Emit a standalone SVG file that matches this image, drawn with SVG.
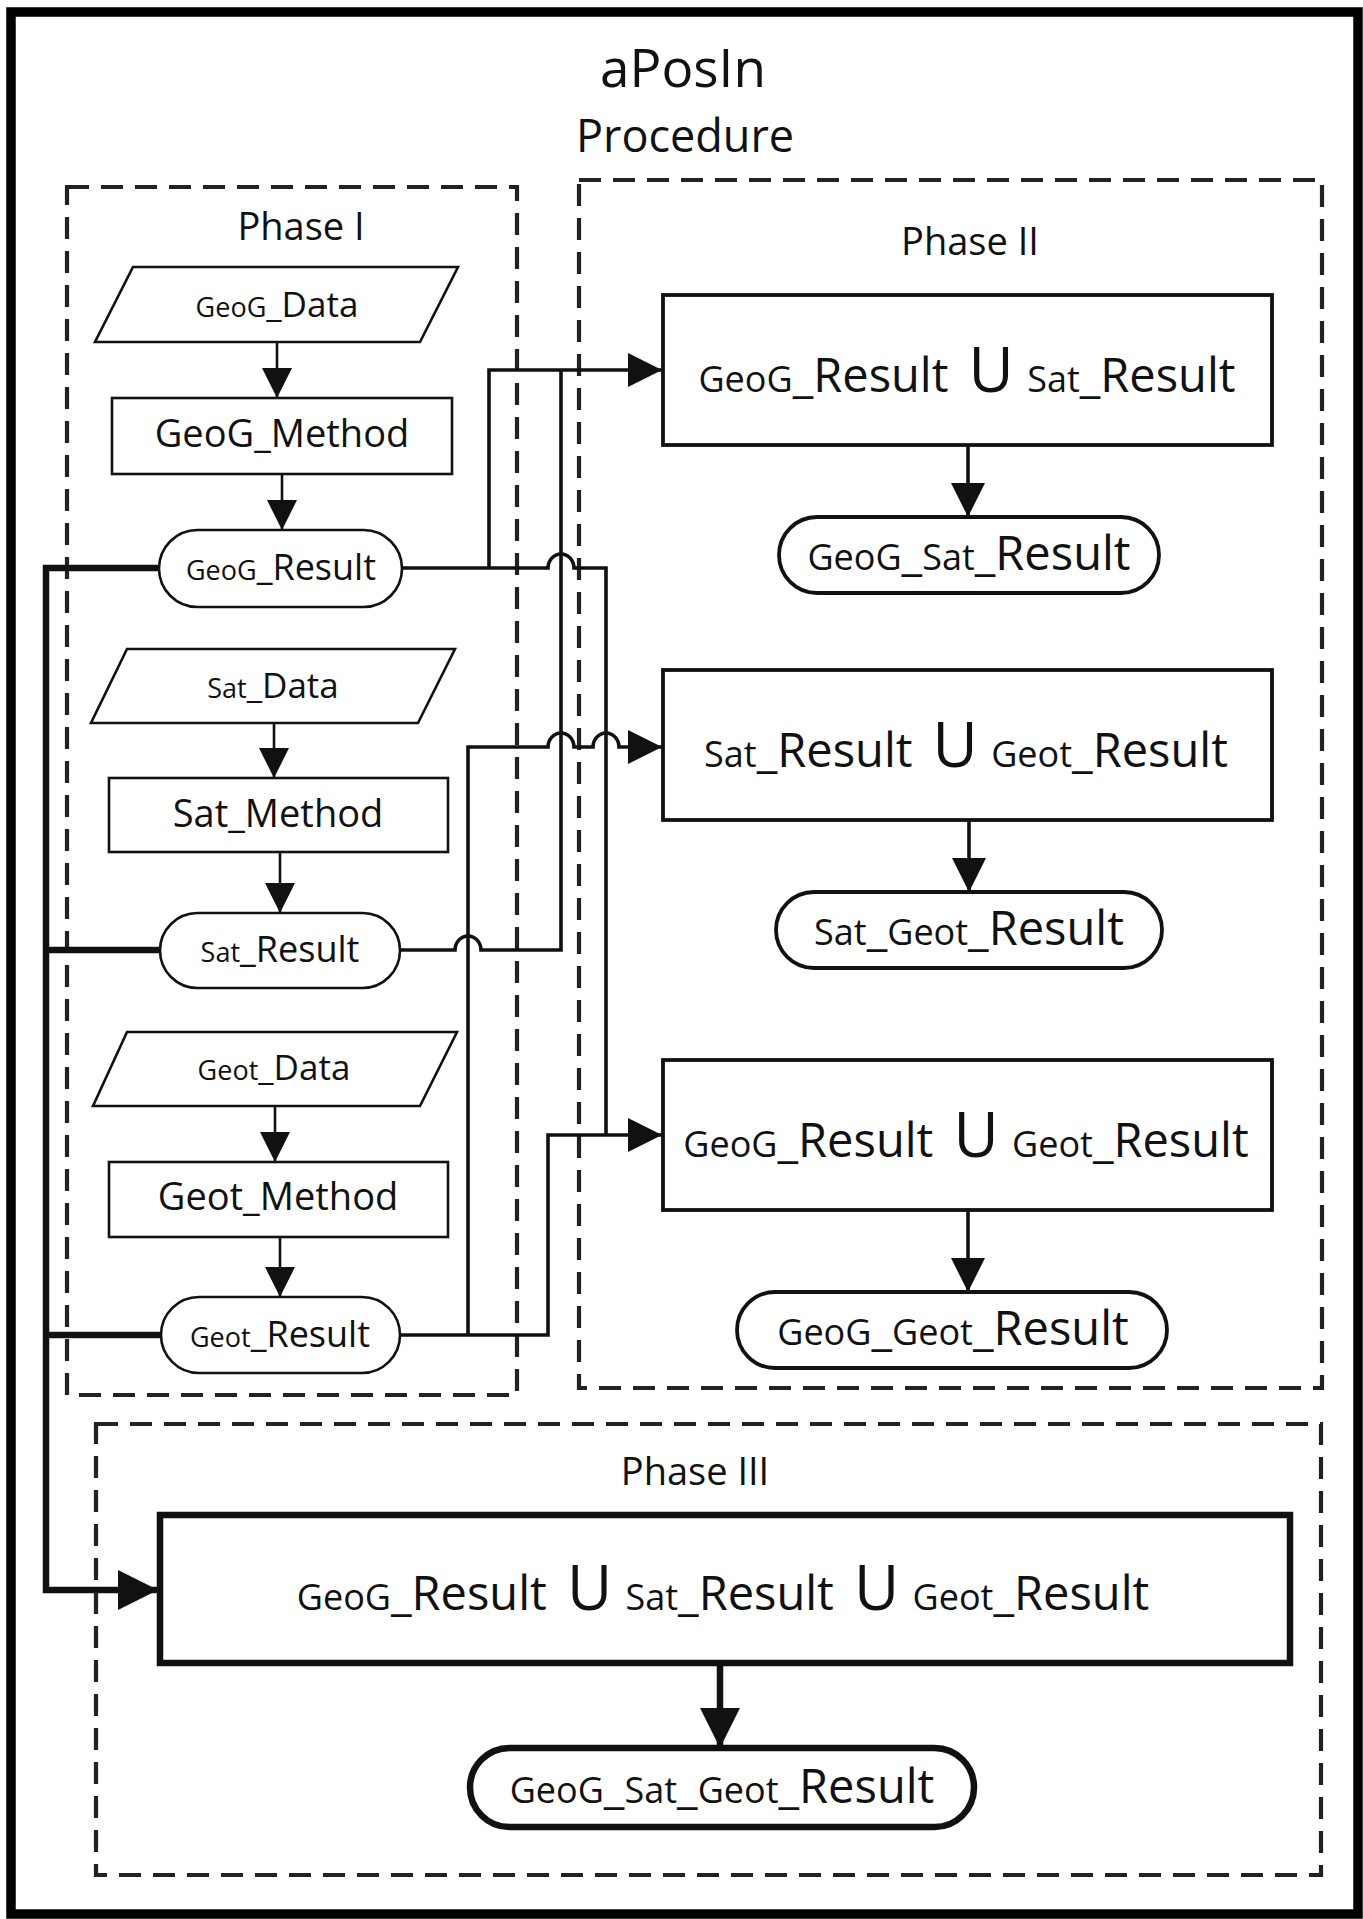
<svg xmlns="http://www.w3.org/2000/svg" width="1363" height="1919" viewBox="0 0 1363 1919">
<style>
text{font-family:"Open Sans","Noto Sans","Liberation Sans",sans-serif;fill:#111;text-anchor:middle}
.title{font-size:53px}
.sub{font-size:45px}
.phase{font-size:38px}
.frame{fill:none;stroke:#222;stroke-width:4.2;stroke-dasharray:22 12}
.n1{fill:#fff;stroke:#111;stroke-width:2.6}
.n2{fill:#fff;stroke:#111;stroke-width:3.8}
.n3{fill:#fff;stroke:#111;stroke-width:6.5}
.c1{fill:none;stroke:#111;stroke-width:2.6}
.c2{fill:none;stroke:#111;stroke-width:3.6}
.c3{fill:none;stroke:#111;stroke-width:6.5}
.sp{font-size:27px}
.sr{font-size:36px}
.sm{font-size:38px}
.pf{font-size:36px}
.rs{font-size:47px}
.un{font-size:62px}
</style>
<defs>
<marker id="aS" viewBox="0 0 10 10" refX="10" refY="5" markerUnits="userSpaceOnUse" markerWidth="30" markerHeight="30" orient="auto"><path d="M0,0 L10,5 L0,10 z" fill="#111"/></marker>
<marker id="aM" viewBox="0 0 10 10" refX="10" refY="5" markerUnits="userSpaceOnUse" markerWidth="34" markerHeight="35" orient="auto"><path d="M0,0 L10,5 L0,10 z" fill="#111"/></marker>
<marker id="aL" viewBox="0 0 10 10" refX="10" refY="5" markerUnits="userSpaceOnUse" markerWidth="40" markerHeight="40" orient="auto"><path d="M0,0 L10,5 L0,10 z" fill="#111"/></marker>
</defs>
<rect x="0" y="0" width="1363" height="1919" fill="#fff"/>
<rect id="outer" x="11" y="12" width="1347" height="1902" fill="none" stroke="#000" stroke-width="9.5"/>
<g id="titles">
<text class="title" x="683" y="87">aPosIn</text>
<text class="sub" x="685" y="152">Procedure</text>
</g>
<g id="phase1">
<rect class="frame" x="67" y="187" width="450" height="1208"/>
<text class="phase" x="301" y="240">Phase I</text>
</g>
<g id="phase2">
<rect class="frame" x="579" y="180" width="743" height="1208"/>
<text class="phase" x="970" y="255">Phase II</text>
</g>
<g id="phase3">
<rect class="frame" x="96" y="1424" width="1225" height="451"/>
<text class="phase" x="695" y="1485">Phase III</text>
</g>
<g id="connectors">
<path class="c1" d="M277,342 L277,398" marker-end="url(#aS)"/>
<path class="c1" d="M282,474 L282,530" marker-end="url(#aS)"/>
<path class="c1" d="M274,723 L274,778" marker-end="url(#aS)"/>
<path class="c1" d="M280,852 L280,913" marker-end="url(#aS)"/>
<path class="c1" d="M275,1106 L275,1162" marker-end="url(#aS)"/>
<path class="c1" d="M280,1237 L280,1297" marker-end="url(#aS)"/>
<path class="c2" d="M402,568 L548,568 A13,14 0 0 1 574,568 L606,568 L606,1135"/>
<path class="c2" d="M489,568 L489,370 L662,370" marker-end="url(#aM)"/>
<path class="c2" d="M400,950 L455,950 A13,14 0 0 1 481,950 L561,950 L561,370"/>
<path class="c2" d="M400,1335 L548,1335 L548,1135 L662,1135" marker-end="url(#aM)"/>
<path class="c2" d="M468,1335 L468,747 L548,747 A13,14 0 0 1 574,747 L593,747 A13,14 0 0 1 619,747 L662,747" marker-end="url(#aM)"/>
<path class="c3" d="M159,568 L46,568 L46,1590 L158,1590" marker-end="url(#aL)"/>
<path class="c3" d="M160,950 L46,950"/>
<path class="c3" d="M161,1335 L46,1335"/>
<path class="c2" d="M968,445 L968,517" marker-end="url(#aM)"/>
<path class="c2" d="M969,820 L969,892" marker-end="url(#aM)"/>
<path class="c2" d="M968,1210 L968,1292" marker-end="url(#aM)"/>
<path class="c3" d="M720,1663 L720,1748" marker-end="url(#aL)"/>
</g>
<g id="geog-data">
<polygon class="n1" points="133,267 458,267 420,342 95,342"/>
<text x="277" y="317"><tspan class="sp">GeoG</tspan><tspan font-size="35">_Data</tspan></text>
</g>
<g id="geog-method">
<rect class="n1" x="112" y="398" width="340" height="76"/>
<text class="sm" x="282" y="447">GeoG_Method</text>
</g>
<g id="geog-result">
<rect class="n1" x="159" y="530" width="243" height="77" rx="38.5"/>
<text x="281" y="580"><tspan class="sp">GeoG</tspan><tspan class="sr">_Result</tspan></text>
</g>
<g id="sat-data">
<polygon class="n1" points="127,649 455,649 418,723 91,723"/>
<text x="273" y="698"><tspan class="sp">Sat</tspan><tspan font-size="35">_Data</tspan></text>
</g>
<g id="sat-method">
<rect class="n1" x="109" y="778" width="339" height="74"/>
<text class="sm" x="278" y="827">Sat_Method</text>
</g>
<g id="sat-result">
<rect class="n1" x="160" y="913" width="240" height="75" rx="37.5"/>
<text x="280" y="962"><tspan class="sp">Sat</tspan><tspan class="sr">_Result</tspan></text>
</g>
<g id="geot-data">
<polygon class="n1" points="127,1032 457,1032 420,1106 93,1106"/>
<text x="274" y="1080"><tspan class="sp">Geot</tspan><tspan font-size="35">_Data</tspan></text>
</g>
<g id="geot-method">
<rect class="n1" x="109" y="1162" width="339" height="75"/>
<text class="sm" x="278" y="1210">Geot_Method</text>
</g>
<g id="geot-result">
<rect class="n1" x="161" y="1297" width="239" height="76" rx="38"/>
<text x="280" y="1347"><tspan class="sp">Geot</tspan><tspan class="sr">_Result</tspan></text>
</g>
<g id="union-geog-sat">
<rect class="n2" x="663" y="295" width="609" height="150"/>
<text x="967" y="392"><tspan class="pf">GeoG</tspan><tspan class="rs">_Result</tspan><tspan class="un" dx="4"> U</tspan><tspan class="pf" dx="4"> Sat</tspan><tspan class="rs">_Result</tspan></text>
</g>
<g id="geog-sat-result">
<rect class="n2" x="779" y="517" width="380" height="76" rx="38"/>
<text x="969" y="570"><tspan class="pf">GeoG</tspan><tspan class="rs">_</tspan><tspan class="pf">Sat</tspan><tspan class="rs">_Result</tspan></text>
</g>
<g id="union-sat-geot">
<rect class="n2" x="663" y="670" width="609" height="150"/>
<text x="966" y="767"><tspan class="pf">Sat</tspan><tspan class="rs">_Result</tspan><tspan class="un" dx="4"> U</tspan><tspan class="pf" dx="4"> Geot</tspan><tspan class="rs">_Result</tspan></text>
</g>
<g id="sat-geot-result">
<rect class="n2" x="776" y="892" width="386" height="76" rx="38"/>
<text x="969" y="945"><tspan class="pf">Sat</tspan><tspan class="rs">_</tspan><tspan class="pf">Geot</tspan><tspan class="rs">_Result</tspan></text>
</g>
<g id="union-geog-geot">
<rect class="n2" x="663" y="1060" width="609" height="150"/>
<text x="966" y="1157"><tspan class="pf">GeoG</tspan><tspan class="rs">_Result</tspan><tspan class="un" dx="4"> U</tspan><tspan class="pf" dx="4"> Geot</tspan><tspan class="rs">_Result</tspan></text>
</g>
<g id="geog-geot-result">
<rect class="n2" x="737" y="1292" width="430" height="76" rx="38"/>
<text x="953" y="1345"><tspan class="pf">GeoG</tspan><tspan class="rs">_</tspan><tspan class="pf">Geot</tspan><tspan class="rs">_Result</tspan></text>
</g>
<g id="union-all">
<rect class="n3" x="160" y="1515" width="1130" height="148"/>
<text x="723" y="1610"><tspan class="pf">GeoG</tspan><tspan class="rs">_Result</tspan><tspan class="un" dx="4"> U</tspan><tspan class="pf" dx="4"> Sat</tspan><tspan class="rs">_Result</tspan><tspan class="un" dx="4"> U</tspan><tspan class="pf" dx="4"> Geot</tspan><tspan class="rs">_Result</tspan></text>
</g>
<g id="geog-sat-geot-result">
<rect class="n3" x="470" y="1748" width="504" height="79" rx="39.5"/>
<text x="722" y="1803"><tspan class="pf">GeoG</tspan><tspan class="rs">_</tspan><tspan class="pf">Sat</tspan><tspan class="rs">_</tspan><tspan class="pf">Geot</tspan><tspan class="rs">_Result</tspan></text>
</g>
</svg>
